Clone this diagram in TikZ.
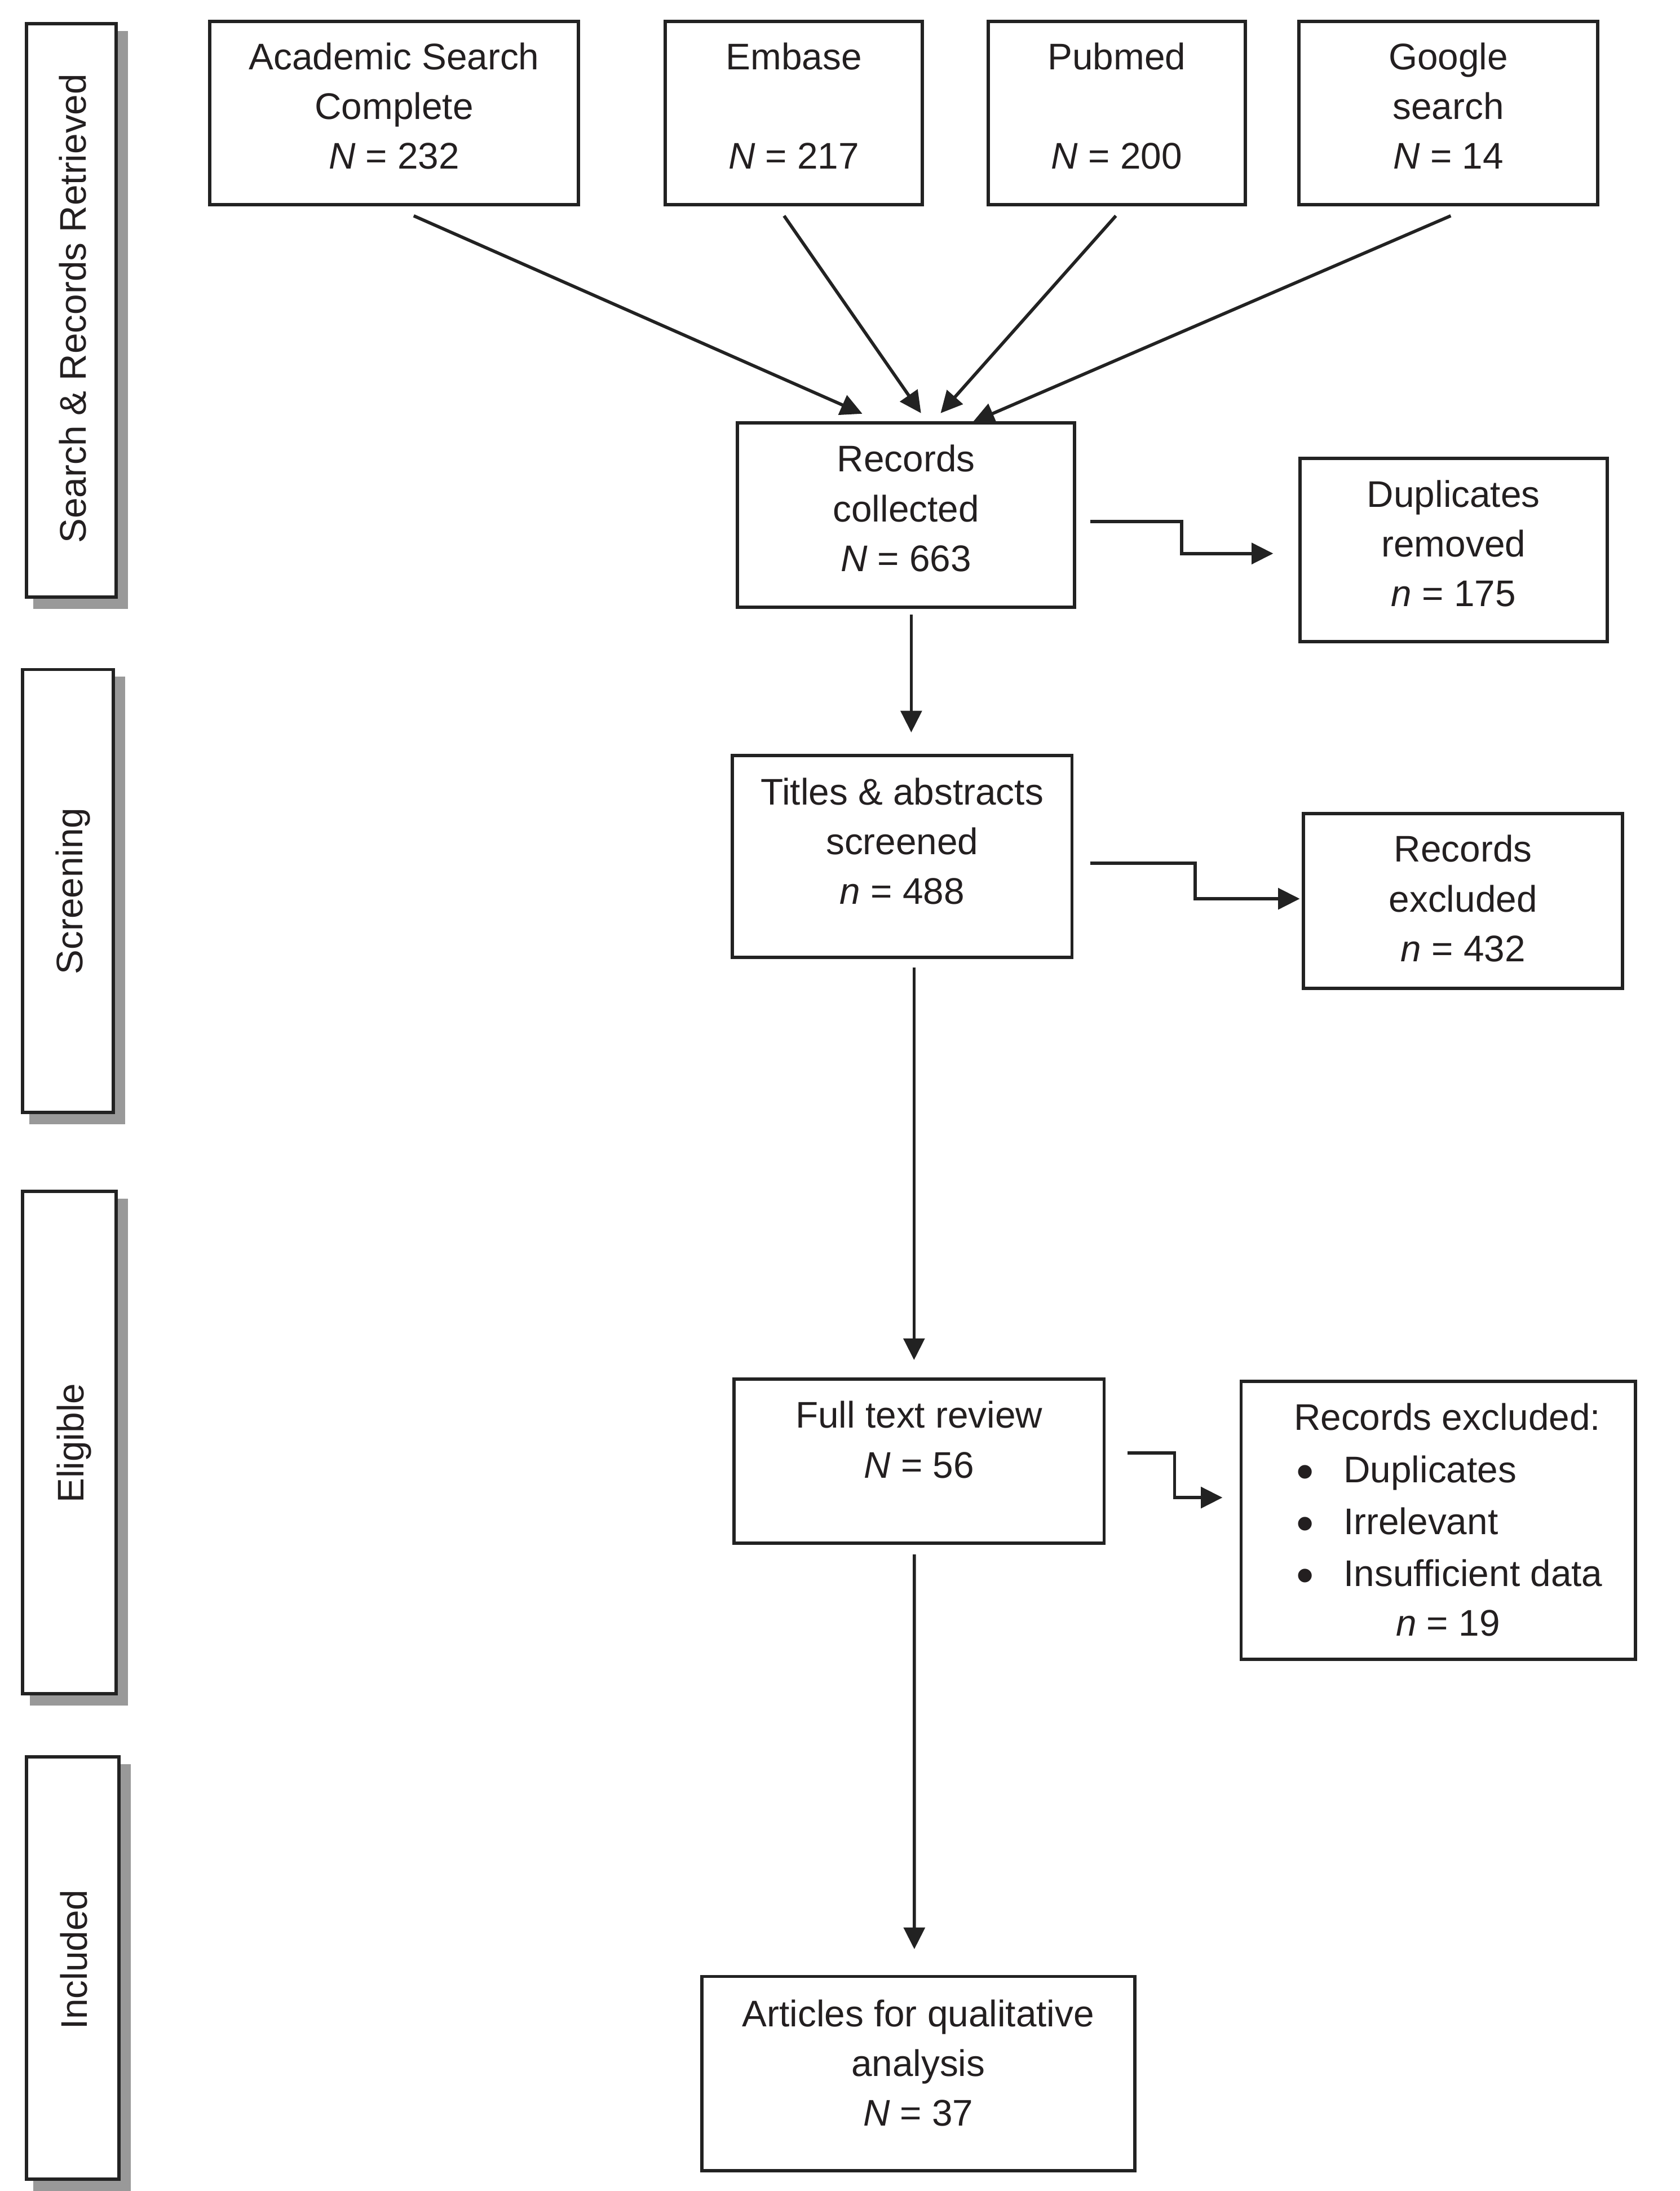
\documentclass[tikz,border=0pt]{standalone}
\usepackage{fontspec}
\setmainfont{Liberation Sans}
\usetikzlibrary{arrows.meta,calc}
\definecolor{linec}{RGB}{34,34,34}
\definecolor{textc}{RGB}{35,31,32}
\definecolor{shadowc}{RGB}{153,153,153}
\pgfdeclarelayer{background}
\pgfsetlayers{background,main}
\newcommand\dgfont{\fontsize{26.5}{35.6}\selectfont}
\newcommand\dgbullet{\fontsize{36}{36}\selectfont}
\begin{document}
\begin{tikzpicture}[x=1pt,y=-1pt,
  box/.style={draw=linec,line width=2.4pt,fill=white,inner sep=0pt,outer sep=0pt},
  txt/.style={inner sep=0pt,outer sep=0pt,align=center,anchor=north,font=\dgfont,text=textc},
  ltxt/.style={inner sep=0pt,outer sep=0pt,font=\dgfont,text=textc},
  side/.style={inner sep=0pt,outer sep=0pt,font=\dgfont,text=textc,rotate=90,anchor=base},
  arr/.style={draw=linec,line width=2.3pt,-{Triangle[length=15.5pt,width=15pt]}},
  shad/.style={fill=shadowc}
]
\useasboundingbox (0,0) rectangle (1202,1567.5);
\begin{pgfonlayer}{background}
\fill[white] (0,0) rectangle (1202,1567.5);
\end{pgfonlayer}

% side phase boxes
\node[box,minimum width=64pt,minimum height=410pt] (s1) at (51,222) {};
\node[box,minimum width=65pt,minimum height=317pt] (s2) at (48.5,637.5) {};
\node[box,minimum width=67pt,minimum height=359.4pt] (s3) at (49.7,1032.1) {};
\node[box,minimum width=66pt,minimum height=302pt] (s4) at (52,1408) {};
\begin{pgfonlayer}{background}
\foreach \s in {s1,s2,s3,s4}{
  \fill[shad] ($(\s.north west)+(5,5)$) rectangle ($(\s.south east)+(8.5,8.5)$);
}
\end{pgfonlayer}
\node[side] (l1) at (61.4,220.7) {Search \& Records Retrieved};
\node[side] (l2) at (58.9,637.5) {Screening};
\node[side] (l3) at (60.1,1032.5) {Eligible};
\node[side] (l4) at (62.4,1402) {Included};

% top source boxes
\node[box,minimum width=264pt,minimum height=131.1pt] (acad) at (282,80.75) {};
\node[box,minimum width=184pt,minimum height=131.1pt] (emb) at (568,80.75) {};
\node[box,minimum width=184pt,minimum height=131.1pt] (pub) at (799,80.75) {};
\node[box,minimum width=213.5pt,minimum height=131.1pt] (goo) at (1036.25,80.75) {};
\node[txt] (tacad) at (282,24.8) {\strut Academic Search\\\strut Complete\\\strut\textit{N} = 232};
\node[txt] (temb) at (568,24.8) {\strut Embase\\\strut\\\strut\textit{N} = 217};
\node[txt] (tpub) at (799,24.8) {\strut Pubmed\\\strut\\\strut\textit{N} = 200};
\node[txt] (tgoo) at (1036.25,24.8) {\strut Google\\\strut search\\\strut\textit{N} = 14};

% main flow boxes
\node[box,minimum width=241.5pt,minimum height=131.8pt] (rec) at (648.25,368.4) {};
\node[box,minimum width=220pt,minimum height=131pt] (dup) at (1040,393.5) {};
\node[box,minimum width=243pt,minimum height=144.5pt] (tit) at (645.5,612.75) {};
\node[box,minimum width=228.4pt,minimum height=125pt] (exc1) at (1046.8,644.5) {};
\node[box,minimum width=264.8pt,minimum height=117.3pt] (full) at (657.6,1045.35) {};
\node[box,minimum width=282pt,minimum height=198.8pt] (exc2) at (1029,1087.6) {};
\node[box,minimum width=310pt,minimum height=139pt] (art) at (657,1483.5) {};

\node[txt] (trec) at (648.25,312.6) {\strut Records\\\strut collected\\\strut\textit{N} = 663};
\node[txt] (tdup) at (1040,337.8) {\strut Duplicates\\\strut removed\\\strut\textit{n} = 175};
\node[txt] (ttit) at (645.5,550.8) {\strut Titles \& abstracts\\\strut screened\\\strut\textit{n} = 488};
\node[txt] (texc1) at (1046.8,591.8) {\strut Records\\\strut excluded\\\strut\textit{n} = 432};
\node[txt] (tfull) at (657.6,996.8) {\strut Full text review\\\strut\textit{N} = 56};
\node[txt] (tart) at (657,1424.8) {\strut Articles for qualitative\\\strut analysis\\\strut\textit{N} = 37};

\node[ltxt,anchor=base] (tex2) at (1035.5,1023) {Records excluded:};
\node[ltxt,anchor=base west] (tex2a) at (961.4,1060.5) {Duplicates};
\node[ltxt,anchor=base west] (tex2b) at (961.4,1097.8) {Irrelevant};
\node[ltxt,anchor=base west] (tex2c) at (961.4,1134.8) {Insufficient data};
\node[ltxt,anchor=base] (tex2n) at (1036,1170.3) {\textit{n} = 19};
\node[ltxt,anchor=base,font=\dgbullet] (b1) at (934,1065) {•};
\node[ltxt,anchor=base,font=\dgbullet] (b2) at (934,1102.3) {•};
\node[ltxt,anchor=base,font=\dgbullet] (b3) at (934,1139.3) {•};

% converging arrows
\draw[arr] ($(acad.south)+(14,8.1)$) -- ($(rec.north)+(-31.25,-6.5)$);
\draw[arr] ($(emb.south)+(-7,8.1)$) -- ($(rec.north)+(10.75,-6.9)$);
\draw[arr] ($(pub.south)+(-0.6,8.1)$) -- ($(rec.north)+(24.75,-6.9)$);
\draw[arr] ($(goo.south)+(1.75,8.1)$) -- ($(rec.north)+(47.75,-0.5)$);

% vertical flow
\draw[arr] ($(rec.south)+(3.75,5.4)$) -- ($(tit.north)+(6.5,-16.5)$);
\draw[arr] ($(tit.south)+(8.5,7)$) -- ($(full.north)+(-3.6,-13.7)$);
\draw[arr] ($(full.south)+(-3.4,8)$) -- ($(art.north)+(-2.8,-19.5)$);

% elbow arrows to exclusions
\draw[arr] ($(rec.east)+(11,4.6)$) -- ++(65.5,0) |- ($(dup.west)+(-19,2.5)$);
\draw[arr] ($(tit.east)+(13,4.85)$) -- ++(75,0) |- ($(exc1.west)+(-2.6,-1.5)$);
\draw[arr] ($(full.east)+(16.8,-5.85)$) -- ++(33.6,0) |- ($(exc2.west)+(-13.3,-16.2)$);
\end{tikzpicture}
\end{document}
